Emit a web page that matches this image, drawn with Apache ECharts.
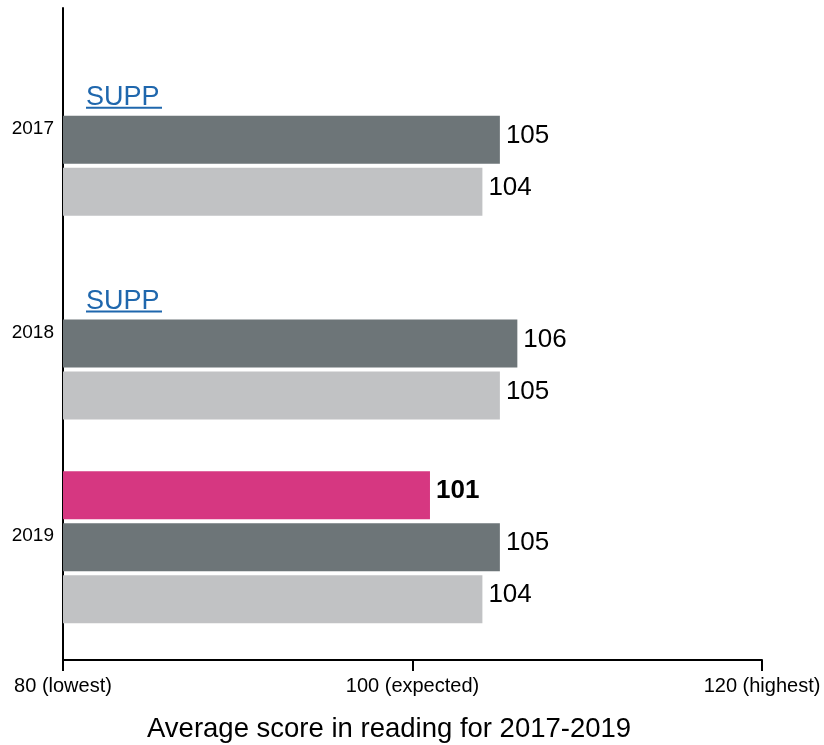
<!DOCTYPE html>
<html>
<head>
<meta charset="utf-8">
<script src="https://cdn.jsdelivr.net/npm/echarts@6/dist/echarts.min.js"></script>
<style>
  html, body { margin: 0; padding: 0; background: #fff; }
  #chart { width: 824px; height: 745px; }
</style>
</head>
<body>
<div id="chart"></div>
<script>
const years = ['2017', '2018', '2019'];
// null = result suppressed (shown as SUPP)
const schoolScores = [null, null, 101];
const localScores = [105, 106, 105];
const nationalScores = [104, 105, 104];
const tickValues = [80, 100, 120];
const tickLabels = ['80 (lowest)', '100 (expected)', '120 (highest)'];
const axisTitle = 'Average score in reading for 2017-2019';

const FONT = 'Liberation Sans, Arial, sans-serif';
const xMin = tickValues[0];
const xMax = tickValues[tickValues.length - 1];

const chart = echarts.init(document.getElementById('chart'));

const schoolData = schoolScores.map(v => {
  if (v != null) return v;
  return {
    value: xMin,
    itemStyle: { color: 'rgba(0,0,0,0)' },
    label: {
      show: true,
      position: 'right',
      distance: 23,
      offset: [0, 11],
      formatter: '{t|SUPP}\n{u|}',
      rich: {
        t: { fontSize: 27, fontWeight: 'normal', color: '#1f67ad', fontFamily: FONT, lineHeight: 18 },
        u: { height: 2, width: 76, backgroundColor: '#1f67ad' }
      }
    }
  };
});

const valueLabel = {
  show: true,
  position: 'right',
  distance: 5,
  offset: [1, -4],
  color: '#000',
  fontSize: 26,
  fontFamily: FONT
};

const option = {
  animation: false,
  title: {
    text: axisTitle,
    left: 142,
    top: 710,
    textStyle: { fontSize: 27.5, fontWeight: 'normal', color: '#000', fontFamily: FONT }
  },
  grid: [
    { left: 63, width: 699, top: 38, height: 611 },
    { left: 63, width: 699, top: 8, height: 652 }
  ],
  xAxis: [
    { gridIndex: 0, type: 'value', min: xMin, max: xMax, show: false },
    {
      gridIndex: 1, type: 'value', min: xMin, max: xMax, interval: 20,
      axisLine: { show: true, lineStyle: { color: '#000', width: 2 } },
      axisTick: { show: true, length: 11, lineStyle: { color: '#000', width: 2 } },
      splitLine: { show: false },
      axisLabel: {
        margin: 16,
        fontSize: 20,
        color: '#000',
        fontFamily: FONT,
        formatter: v => tickLabels[tickValues.indexOf(v)] || ''
      }
    }
  ],
  yAxis: [
    {
      gridIndex: 0, type: 'category', data: years, inverse: true,
      axisLine: { show: false },
      axisTick: { show: false },
      axisLabel: {
        margin: 9,
        fontSize: 19,
        color: '#000',
        fontFamily: FONT,
        verticalAlign: 'bottom',
        lineHeight: 22
      }
    },
    {
      gridIndex: 1, type: 'value', min: 0, max: 1,
      axisLine: { show: true, lineStyle: { color: '#000', width: 2 } },
      axisTick: { show: false },
      axisLabel: { show: false },
      splitLine: { show: false }
    }
  ],
  series: [
    {
      name: 'School',
      type: 'bar',
      xAxisIndex: 0, yAxisIndex: 0,
      data: schoolData,
      barWidth: 48,
      barGap: '8.4%',
      itemStyle: { color: '#d63781' },
      label: Object.assign({}, valueLabel, { fontWeight: 'bold' })
    },
    {
      name: 'Local authority',
      type: 'bar',
      xAxisIndex: 0, yAxisIndex: 0,
      data: localScores,
      barWidth: 48,
      barGap: '8.4%',
      itemStyle: { color: '#6d7578' },
      label: valueLabel
    },
    {
      name: 'England',
      type: 'bar',
      xAxisIndex: 0, yAxisIndex: 0,
      data: nationalScores,
      barWidth: 48,
      barGap: '8.4%',
      itemStyle: { color: '#c1c2c4' },
      label: valueLabel
    }
  ]
};

chart.setOption(option);
</script>
</body>
</html>
